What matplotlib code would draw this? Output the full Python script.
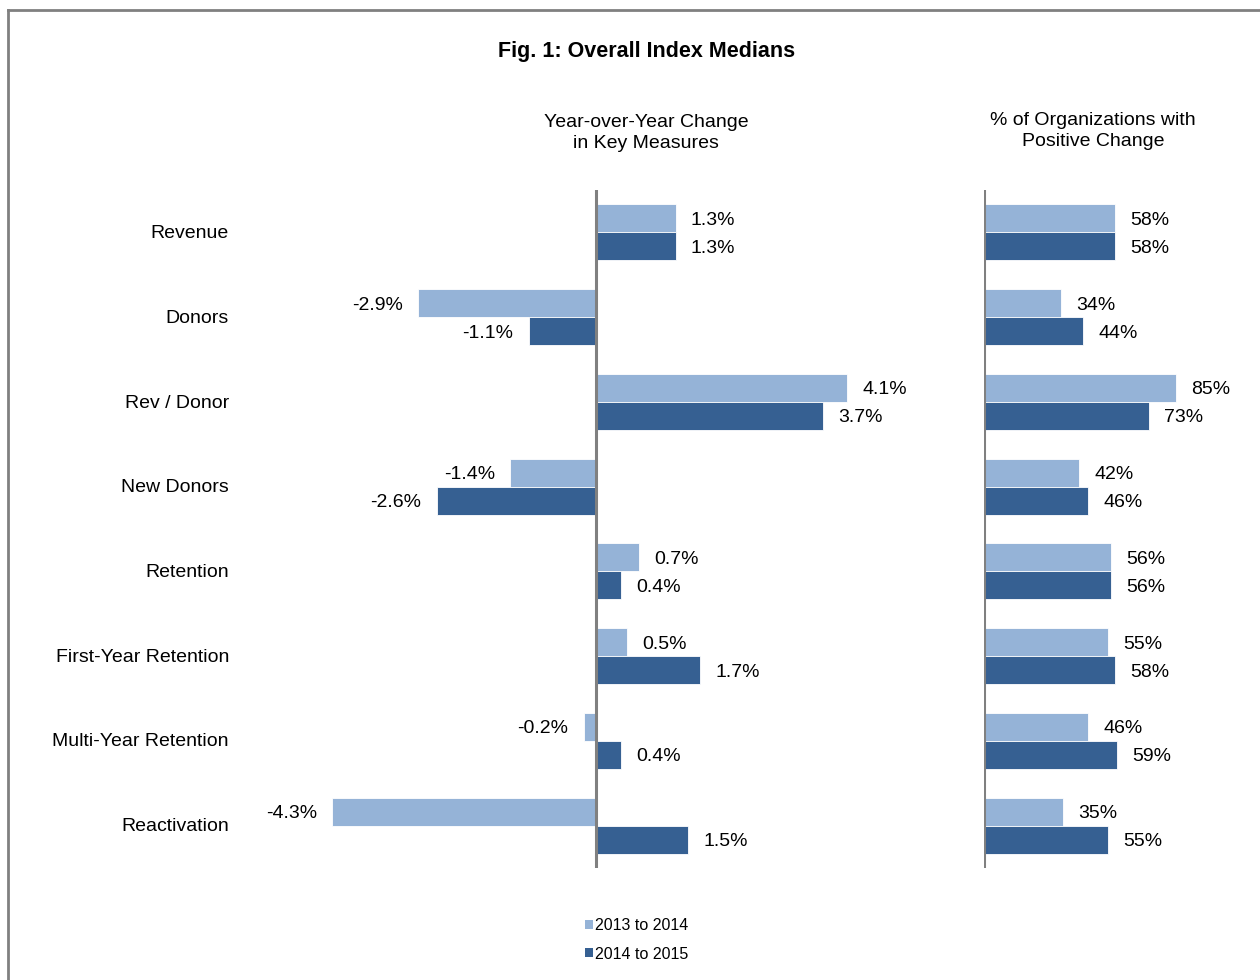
import matplotlib.pyplot as plt
from matplotlib.patches import Patch
from matplotlib.lines import Line2D
import numpy as np

plt.rcParams['font.family'] = ['Liberation Sans', 'DejaVu Sans']

# data
categories = ["Revenue", "Donors", "Rev / Donor", "New Donors", "Retention",
              "First-Year Retention", "Multi-Year Retention", "Reactivation"]
yoy_1314 = [1.3, -2.9, 4.1, -1.4, 0.7, 0.5, -0.2, -4.3]
yoy_1415 = [1.3, -1.1, 3.7, -2.6, 0.4, 1.7, 0.4, 1.5]
pos_1314 = [58, 34, 85, 42, 56, 55, 46, 35]
pos_1415 = [58, 44, 73, 46, 56, 58, 59, 55]
series_names = ["2013 to 2014", "2014 to 2015"]

light = "#95b3d7"
dark = "#366092"
grey = "#808080"

fig = plt.figure(figsize=(12.6, 9.8), dpi=100)

# frame around the whole chart (goes off the right and bottom edges)
fig.add_artist(Line2D([8/1260, 8/1260], [0, 1 - 10/980], transform=fig.transFigure, color=grey, lw=2))
fig.add_artist(Line2D([8/1260, 1], [1 - 10/980, 1 - 10/980], transform=fig.transFigure, color=grey, lw=2))

y = np.arange(len(categories))
h = 0.33

ax1 = fig.add_axes([289.5/1260, 112/980, 613/1260, 678/980])
ax2 = fig.add_axes([984/1260, 112/980, 226/1260, 678/980])

for ax in (ax1, ax2):
    for s in ax.spines.values():
        s.set_visible(False)
    ax.set_ylim(len(categories) - 0.5, -0.5)
    ax.set_xticks([])
    ax.set_yticks([])

ax1.set_xlim(-5, 5)
ax2.set_xlim(0, 100)

ax1.barh(y - h/2, yoy_1314, height=h, color=light, edgecolor="white", linewidth=0.6)
ax1.barh(y + h/2, yoy_1415, height=h, color=dark, edgecolor="white", linewidth=0.6)
ax1.axvline(0, color=grey, lw=2.2)

ax2.barh(y - h/2, pos_1314, height=h, color=light, edgecolor="white", linewidth=0.6)
ax2.barh(y + h/2, pos_1415, height=h, color=dark, edgecolor="white", linewidth=0.6)
ax2.axvline(0, color=grey, lw=2.2)

fs = 14
for i in range(len(categories)):
    for val, off in ((yoy_1314[i], -h/2), (yoy_1415[i], h/2)):
        if val >= 0:
            ax1.annotate(f"{val:.1f}%", (val, i + off), xytext=(11, -1.5), textcoords="offset points",
                         ha="left", va="center", fontsize=fs)
        else:
            ax1.annotate(f"{val:.1f}%", (val, i + off), xytext=(-11, -1.5), textcoords="offset points",
                         ha="right", va="center", fontsize=fs)
    for val, off in ((pos_1314[i], -h/2), (pos_1415[i], h/2)):
        ax2.annotate(f"{val}%", (val, i + off), xytext=(11, -1.5), textcoords="offset points",
                     ha="left", va="center", fontsize=fs)
    fig.text(229/1260, 1 - (234 + i * 84.6)/980, categories[i], ha="right", va="center", fontsize=fs)

fig.text(647/1260, 1 - 52/980, "Fig. 1: Overall Index Medians", ha="center", va="center",
         fontsize=15.5, fontweight="bold")
fig.text(646/1260, 1 - 133/980, "Year-over-Year Change\nin Key Measures", ha="center", va="center",
         fontsize=fs, linespacing=1.3)
fig.text(1093/1260, 1 - 131/980, "% of Organizations with\nPositive Change", ha="center", va="center",
         fontsize=fs, linespacing=1.3)

handles = [Patch(facecolor=light), Patch(facecolor=dark)]
fig.legend(handles, series_names, loc="upper left", bbox_to_anchor=(577/1260, 1 - 910/980),
           frameon=False, fontsize=11.5, handlelength=0.5, handleheight=0.5, handletextpad=0.15,
           labelspacing=0.85, borderpad=0)

fig.savefig("out.png", dpi=100)
